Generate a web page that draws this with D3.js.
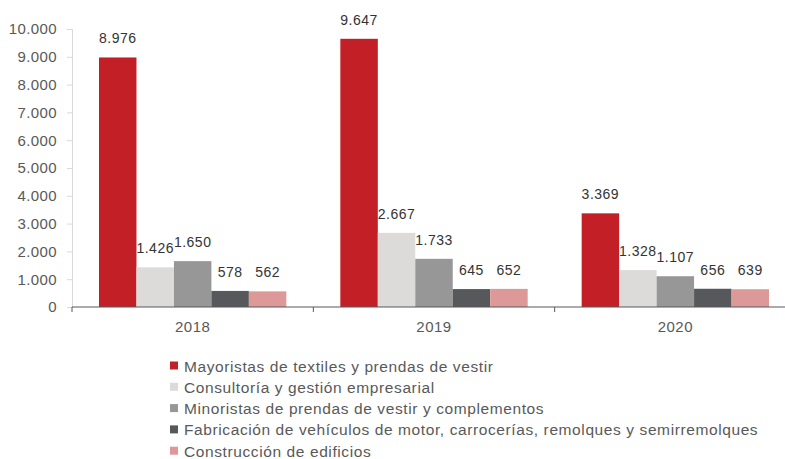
<!DOCTYPE html>
<html>
<head>
<meta charset="utf-8">
<script src="https://cdn.jsdelivr.net/npm/d3@7"></script>
<style>
  body { margin: 0; background: #fff; }
  text { font-family: "Liberation Sans", Arial, sans-serif; }
</style>
</head>
<body>
<div id="chart"></div>
<script>
var years = ["2018", "2019", "2020"];
var seriesNames = [
  "Mayoristas de textiles y prendas de vestir",
  "Consultoría y gestión empresarial",
  "Minoristas de prendas de vestir y complementos",
  "Fabricación de vehículos de motor, carrocerías, remolques y semirremolques",
  "Construcción de edificios"
];
var mayoristas = [8976, 9647, 3369];
var consultoria = [1426, 2667, 1328];
var minoristas = [1650, 1733, 1107];
var fabricacion = [578, 645, 656];
var construccion = [562, 652, 639];
var yTicks = [0, 1000, 2000, 3000, 4000, 5000, 6000, 7000, 8000, 9000, 10000];

var colors = ["#c21f27", "#dcdbd9", "#979797", "#57585b", "#dc9998"];
var allSeries = [mayoristas, consultoria, minoristas, fabricacion, construccion];

var svgWidth = 785;
var svgHeight = 459;

var svg = d3.select("#chart")
  .append("svg")
  .attr("width", svgWidth)
  .attr("height", svgHeight);

var x0 = d3.scaleBand()
  .domain(years)
  .range([72, 796]);

var x1 = d3.scaleBand()
  .domain(d3.range(seriesNames.length))
  .range([27, x0.bandwidth() - 27]);

var y = d3.scaleLinear()
  .domain([0, 10000])
  .range([307, 29]);

var fmt = function(v) { return d3.format(",")(v).replace(/,/g, "."); };

// y axis
var yAxis = svg.append("g")
  .attr("transform", "translate(72,0)")
  .call(d3.axisLeft(y).tickValues(yTicks).tickSize(5).tickPadding(10).tickFormat(fmt));
yAxis.select(".domain").attr("stroke", "#d9d9d9");
yAxis.selectAll(".tick line").attr("stroke", "#d9d9d9");
yAxis.selectAll(".tick text")
  .attr("fill", "#595959")
  .style("font-size", "15px")
  .style("letter-spacing", "0.4px");

// bars
years.forEach(function(yr, i) {
  var g = svg.append("g").attr("transform", "translate(" + x0(yr) + ",0)");
  allSeries.forEach(function(s, j) {
    g.append("rect")
      .attr("x", x1(j))
      .attr("y", y(s[i]))
      .attr("width", x1.bandwidth())
      .attr("height", y(0) - y(s[i]))
      .attr("fill", colors[j]);
    g.append("text")
      .attr("x", x1(j) + x1.bandwidth() / 2)
      .attr("y", y(s[i]) - 14)
      .attr("text-anchor", "middle")
      .attr("fill", "#333")
      .style("font-size", "14px")
      .style("letter-spacing", "0.5px")
      .text(fmt(s[i]));
  });
});

// x axis
var xAxis = svg.append("g").attr("transform", "translate(0,307)");
xAxis.append("line")
  .attr("x1", 72).attr("x2", 796)
  .attr("stroke", "#595959").attr("stroke-width", 1.2);
var edges = years.map(function(d) { return x0(d); }).concat([x0.range()[1]]);
xAxis.selectAll(".sep")
  .data(edges)
  .enter()
  .append("line")
  .attr("x1", d => d).attr("x2", d => d)
  .attr("y1", 0).attr("y2", 5)
  .attr("stroke", "#595959");
xAxis.selectAll(".yr")
  .data(years)
  .enter()
  .append("text")
  .attr("x", d => x0(d) + x0.bandwidth() / 2)
  .attr("y", 25)
  .attr("text-anchor", "middle")
  .attr("fill", "#595959")
  .style("font-size", "15px")
  .style("letter-spacing", "0.5px")
  .text(d => d);

// legend
var legend = svg.append("g").attr("transform", "translate(170,366)");
seriesNames.forEach(function(name, j) {
  var row = legend.append("g").attr("transform", "translate(0," + (j * 21.3) + ")");
  row.append("rect")
    .attr("x", 0).attr("y", -4.5)
    .attr("width", 8).attr("height", 8)
    .attr("fill", colors[j]);
  row.append("text")
    .attr("x", 14)
    .attr("y", 5.5)
    .attr("fill", "#595959")
    .style("font-size", "15.5px")
    .style("letter-spacing", "0.6px")
    .text(name);
});
</script>
</body>
</html>
